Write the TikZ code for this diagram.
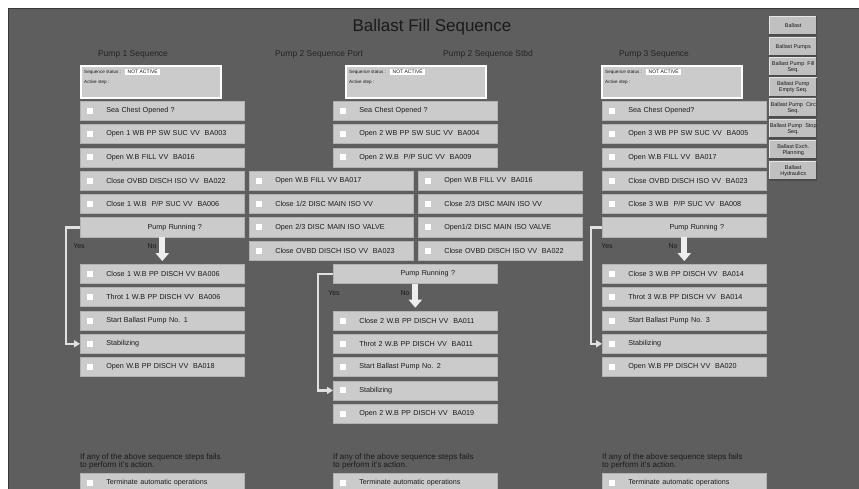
\documentclass[tikz,border=0pt]{standalone}
\usepackage{fontspec}
\setmainfont{Liberation Sans}
\usetikzlibrary{arrows.meta}

\definecolor{panel}{HTML}{5E5E5E}
\definecolor{boxgray}{HTML}{CBCBCB}
\definecolor{boxedge}{HTML}{B2B2B2}
\definecolor{btngray}{HTML}{C0C0C0}
\definecolor{arrowgray}{HTML}{EEEEEE}
\definecolor{ink}{HTML}{1A1A1A}

\begin{document}
\begin{tikzpicture}[x=1pt,y=-1pt]

\tikzset{stepbox/.style = {rectangle, draw=boxedge, line width=0.6pt, fill=boxgray, anchor=north west,
  minimum height=19pt, text width=162pt, inner xsep=1pt, inner ysep=0pt, align=left,
  font=\fontsize{7.2}{8}\selectfont, text=ink, execute at begin node={\hspace*{25pt}},
  path picture={\fill[white] ([xshift=6.5pt,yshift=-3pt]path picture bounding box.west) rectangle ++(6pt,6pt);}}}
\tikzset{querybox/.style = {stepbox, align=center, execute at begin node={}, path picture={}}}
\tikzset{statusbox/.style = {rectangle, draw=white, line width=2pt, fill=boxgray, anchor=north west,
  minimum width=140pt, minimum height=32pt}}
\tikzset{small/.style = {anchor=west, inner sep=0pt, text=ink, font=\fontsize{4.6}{5}\selectfont}}
\tikzset{flag/.style = {anchor=west, fill=white, inner xsep=2.5pt, inner ysep=0.8pt, text=ink, font=\fontsize{5}{5}\selectfont}}
\tikzset{header/.style = {text=ink!85!panel, font=\fontsize{8.5}{9}\selectfont}}
\tikzset{note/.style = {anchor=north west, inner sep=0pt, align=left, text=ink, font=\fontsize{8}{7.5}\selectfont}}
\tikzset{answer/.style = {text=ink, font=\fontsize{7}{7}\selectfont}}
\tikzset{btn/.style = {rectangle, fill=btngray, anchor=north west, minimum width=48pt, minimum height=19pt,
  inner sep=0pt, align=center, text=ink, font=\fontsize{5.5}{6}\selectfont,
  path picture={\draw[white!90!black, line width=1.6pt] (path picture bounding box.south west) -- (path picture bounding box.north west) -- (path picture bounding box.north east);
    \draw[black!70, line width=1.6pt] (path picture bounding box.north east) -- (path picture bounding box.south east) -- (path picture bounding box.south west);}}}
\tikzset{noarrow/.style = {draw=arrowgray, line width=6pt, -{Triangle[width=13pt,length=8pt]}, shorten >=3pt}}
\tikzset{yesline/.style = {draw=boxgray!60!white, line width=2.5pt, -{Triangle[width=7pt,length=6pt]}}}

\clip (0,0) rectangle (859,489);
\fill[white] (0,0) rectangle (859,489);
\filldraw[fill=panel, draw=panel!60!black, line width=1pt] (8,9) rectangle (862,492);

%titles
\node[text=ink, font=\fontsize{17}{18}\selectfont] (title) at (432,27) {Ballast Fill Sequence};
\node[header] (h1) at (133,54) {Pump 1 Sequence};
\node[header] (h2) at (319,54) {Pump 2 Sequence Port};
\node[header] (h3) at (488,54) {Pump 2 Sequence Stbd};
\node[header] (h4) at (654,54) {Pump 3 Sequence};

%status
\node[statusbox] (stat1) at (80,65) {};
\node[small] (seq1) at (84,72) {Sequence status :};
\node[flag] (na1) at (125,72) {NOT ACTIVE};
\node[small] (act1) at (84,82) {Active step :};
\node[statusbox] (stat2) at (345,65) {};
\node[small] (seq2) at (349,72) {Sequence status :};
\node[flag] (na2) at (390,72) {NOT ACTIVE};
\node[small] (act2) at (349,82) {Active step :};
\node[statusbox] (stat3) at (601,65) {};
\node[small] (seq3) at (605,72) {Sequence status :};
\node[flag] (na3) at (646,72) {NOT ACTIVE};
\node[small] (act3) at (605,82) {Active step :};

%pump 1
\node[stepbox] (a0) at (80,101) {Sea Chest Opened ?};
\node[stepbox] (a1) at (80,124.3) {Open 1 WB PP SW SUC VV\ \ BA003};
\node[stepbox] (a2) at (80,147.6) {Open W.B FILL VV\ \ BA016};
\node[stepbox] (a3) at (80,170.9) {Close OVBD DISCH ISO VV\ \ BA022};
\node[stepbox] (a4) at (80,194.2) {Close 1 W.B\ \ P/P SUC VV\ \ BA006};
\node[querybox] (pr1) at (80,217.5) {Pump Running ?};
\node[answer] (yes1) at (79,246) {Yes};
\node[answer] (no1) at (152,246) {No};
\node[stepbox] (a7) at (80,264.1) {Close 1 W.B PP DISCH VV BA006};
\node[stepbox] (a8) at (80,287.4) {Throt 1 W.B PP DISCH VV\ \ BA006};
\node[stepbox] (a9) at (80,310.7) {Start Ballast Pump No. 1};
\node[stepbox] (a10) at (80,334) {Stabilizing};
\node[stepbox] (a11) at (80,357.3) {Open W.B PP DISCH VV\ \ BA018};

%pump 2
\node[stepbox] (b0) at (333,101) {Sea Chest Opened ?};
\node[stepbox] (b1) at (333,124.3) {Open 2 WB PP SW SUC VV\ \ BA004};
\node[stepbox] (b2) at (333,147.6) {Open 2 W.B\ \ P/P SUC VV\ \ BA009};
\node[stepbox] (p3) at (249,170.9) {Open W.B FILL VV BA017};
\node[stepbox] (p4) at (249,194.2) {Close 1/2 DISC MAIN ISO VV};
\node[stepbox] (p5) at (249,217.5) {Open 2/3 DISC MAIN ISO VALVE};
\node[stepbox] (p6) at (249,240.8) {Close OVBD DISCH ISO VV\ \ BA023};
\node[stepbox] (s3) at (418,170.9) {Open W.B FILL VV\ \ BA016};
\node[stepbox] (s4) at (418,194.2) {Close 2/3 DISC MAIN ISO VV};
\node[stepbox] (s5) at (418,217.5) {Open1/2 DISC MAIN ISO VALVE};
\node[stepbox] (s6) at (418,240.8) {Close OVBD DISCH ISO VV\ \ BA022};
\node[querybox] (pr2) at (333,264.1) {Pump Running ?};
\node[answer] (yes2) at (334,293) {Yes};
\node[answer] (no2) at (405,293) {No};
\node[stepbox] (b9) at (333,310.7) {Close 2 W.B PP DISCH VV\ \ BA011};
\node[stepbox] (b10) at (333,334) {Throt 2 W.B PP DISCH VV\ \ BA011};
\node[stepbox] (b11) at (333,357.3) {Start Ballast Pump No. 2};
\node[stepbox] (b12) at (333,380.6) {Stabilizing};
\node[stepbox] (b13) at (333,403.9) {Open 2 W.B PP DISCH VV\ \ BA019};

%pump 3
\node[stepbox] (c0) at (602,101) {Sea Chest Opened?};
\node[stepbox] (c1) at (602,124.3) {Open 3 WB PP SW SUC VV\ \ BA005};
\node[stepbox] (c2) at (602,147.6) {Open W.B FILL VV\ \ BA017};
\node[stepbox] (c3) at (602,170.9) {Close OVBD DISCH ISO VV\ \ BA023};
\node[stepbox] (c4) at (602,194.2) {Close 3 W.B\ \ P/P SUC VV\ \ BA008};
\node[querybox] (pr3) at (602,217.5) {Pump Running ?};
\node[answer] (yes3) at (607,246) {Yes};
\node[answer] (no3) at (673,246) {No};
\node[stepbox] (c7) at (602,264.1) {Close 3 W.B PP DISCH VV\ \ BA014};
\node[stepbox] (c8) at (602,287.4) {Throt 3 W.B PP DISCH VV\ \ BA014};
\node[stepbox] (c9) at (602,310.7) {Start Ballast Pump No. 3};
\node[stepbox] (c10) at (602,334) {Stabilizing};
\node[stepbox] (c11) at (602,357.3) {Open W.B PP DISCH VV\ \ BA020};

%failure
\node[note] (f1) at (80,454) {If any of the above sequence steps fails\\to perform it's action.};
\node[stepbox] (t1) at (80,473) {Terminate automatic operations};
\node[note] (f2) at (333,454) {If any of the above sequence steps fails\\to perform it's action.};
\node[stepbox] (t2) at (333,473) {Terminate automatic operations};
\node[note] (f3) at (602,454) {If any of the above sequence steps fails\\to perform it's action.};
\node[stepbox] (t3) at (602,473) {Terminate automatic operations};

%buttons
\node[btn] (m1) at (769,16) {Ballast};
\node[btn] (m2) at (769,37) {Ballast Pumps};
\node[btn] (m3) at (769,57) {Ballast Pump\ \ Fill\\Seq.};
\node[btn] (m4) at (769,77.5) {Ballast Pump\\Empty Seq.};
\node[btn] (m5) at (769,98) {Ballast Pump\ \ Circ\\Seq.};
\node[btn] (m6) at (769,119) {Ballast Pump\ \ Stop\\Seq.};
\node[btn] (m7) at (769,140) {Ballast Exch.\\Planning};
\node[btn] (m8) at (769,161) {Ballast\\Hydraulics};

%arrows
\draw[noarrow] (pr1.south) -- (a7.north);
\draw[noarrow] (pr2.south) -- (b9.north);
\draw[noarrow] (pr3.south) -- (c7.north);
\draw[yesline] (pr1.west) -- ++(-14,0) |- (a10.west);
\draw[yesline] (pr2.west) -- ++(-15,0) |- (b12.west);
\draw[yesline] (pr3.west) -- ++(-11,0) |- (c10.west);

\end{tikzpicture}
\end{document}
